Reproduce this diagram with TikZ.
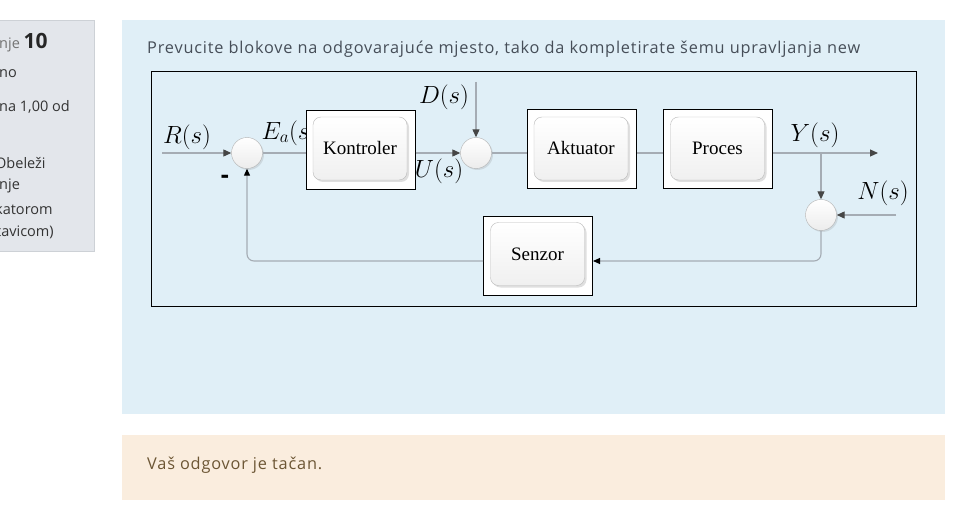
\documentclass[tikz,border=0pt]{standalone}
\usepackage{fontspec}
\setmainfont{Open Sans}
\newfontfamily\blockfont{Liberation Serif}
\newfontfamily\widefont[LetterSpace=5]{Open Sans}
\usetikzlibrary{arrows.meta,shadows}
\definecolor{panelblue}{RGB}{224,239,247}
\definecolor{feedpeach}{RGB}{250,237,222}
\definecolor{sidegray}{RGB}{227,230,235}
\definecolor{sideborder}{RGB}{205,209,214}
\definecolor{qtext}{RGB}{70,78,88}
\definecolor{ftext}{RGB}{108,86,52}
\definecolor{linegray}{RGB}{165,172,180}
\definecolor{tipgray}{RGB}{70,70,70}
\tikzset{
  line/.style={draw=linegray, line width=1.1pt},
  tip/.style={-{Triangle[length=8pt,width=7pt,color=tipgray]}},
  btip/.style={-{Triangle[length=7pt,width=6pt,color=black]}},
  outerbox/.style={draw=black, fill=white, line width=1pt, minimum width=109pt, minimum height=79pt, inner sep=0pt},
  innerbox/.style={draw=gray!55, rounded corners=8pt, top color=white, bottom color=gray!12,
     minimum width=94pt, minimum height=63pt, inner sep=0pt, font=\blockfont\fontsize{19}{22}\selectfont,
     drop shadow={shadow xshift=2pt, shadow yshift=-2pt, opacity=0.25, fill=gray}},
  sumnode/.style={circle, draw=gray!60, minimum size=31pt, inner sep=0pt, top color=white, bottom color=gray!15,
     drop shadow={shadow xshift=1.5pt, shadow yshift=-1.5pt, opacity=0.2, fill=gray}},
  mlabel/.style={font=\fontsize{23}{26}\selectfont, inner sep=0pt},
  sidetext/.style={anchor=west, font=\fontsize{14.5}{17}\selectfont, text=black!80, inner sep=0pt},
  paneltext/.style={anchor=west, font=\widefont\fontsize{16.3}{19}\selectfont, inner sep=0pt},
}
\begin{document}
\begin{tikzpicture}[x=1pt,y=-1pt]
\useasboundingbox (0,0) rectangle (959,532);
\clip (0,0) rectangle (959,532);
% sidebar
\path[fill=sidegray, draw=sideborder] (-5,20) rectangle (94,251);
\node[sidetext, text=black!55] (p1) at (-1,43) {nje \textbf{\fontsize{21}{23}\selectfont\color{black!85}10}};
\node[sidetext] (p2) at (-1,74) {no};
\node[sidetext] (p3) at (-1,107) {na 1,00 od};
\node[sidetext] (p4) at (-5,163) {Obeleži};
\node[sidetext] (p5) at (-1,186) {nje};
\node[sidetext] (p6) at (-5,209) {katorom};
\node[sidetext] (p7) at (-4,232) {tavicom)};
% question panel
\path[fill=panelblue] (122,20) rectangle (945,414);
\node[paneltext, text=qtext] (q) at (147,49)
  {Prevucite blokove na odgovarajuće mjesto, tako da kompletirate šemu upravljanja new};
% diagram frame
\draw[black, line width=1pt] (151,72) rectangle (916,306);
% feedback panel
\path[fill=feedpeach] (122,435) rectangle (945,500);
\node[paneltext, text=ftext] (fb) at (147,465) {Vaš odgovor je tačan.};
% labels
\node[mlabel] (lr) at (187,137) {$R(s)$};
\node[mlabel] (le) at (290,133) {$E_a(s)$};
\node[mlabel] (ld) at (444,97) {$D(s)$};
\node[mlabel] (lu) at (439,171) {$U(s)$};
\node[mlabel] (ly) at (815,135) {$Y(s)$};
\node[mlabel] (ln) at (883,193) {$N(s)$};
\node[font=\bfseries\fontsize{25}{26}\selectfont, inner sep=0pt] (minus) at (225,179) {-};
% blocks
\node[outerbox] (kb) at (360.5,150) {};
\node[innerbox] (k) at (360,148.5) {Kontroler};
\node[outerbox] (ab) at (582,149) {};
\node[innerbox] (a) at (581,148.5) {Aktuator};
\node[outerbox] (pb) at (718,149) {};
\node[innerbox] (p) at (717.5,148.5) {Proces};
\node[outerbox] (sb) at (538,255.5) {};
\node[innerbox] (s) at (537.5,254) {Senzor};
% sums
\node[sumnode] (s1) at (247,153) {};
\node[sumnode] (s2) at (476,153) {};
\node[sumnode] (s3) at (821,215) {};
% helper coordinates
\coordinate (rin) at (162,153);
\coordinate (din) at (476,82);
\coordinate (yout) at (878,153);
\coordinate (yb) at (821,153);
\coordinate (nin) at (896,215);
\coordinate (fbl) at (0,261);
% connectors
\draw[line,tip] (rin) -- (s1.west);
\draw[line] (s1.east) -- (kb.west |- s1);
\draw[line,tip] (kb.east |- s2) -- (s2.west);
\draw[line,tip] (din) -- (s2.north);
\draw[line] (s2.east) -- (ab.west |- s2);
\draw[line] (ab.east |- s2) -- (pb.west |- s2);
\draw[line,tip] (pb.east |- s2) -- (yout);
\draw[line,tip] (yb) -- (s3.north);
\draw[line,tip] (nin) -- (s3.east);
\draw[line,rounded corners=7pt,btip] (s3.south) |- (sb.east |- fbl);
\draw[line,rounded corners=7pt,btip] (sb.west |- fbl) -| (s1.south);
\end{tikzpicture}
\end{document}
